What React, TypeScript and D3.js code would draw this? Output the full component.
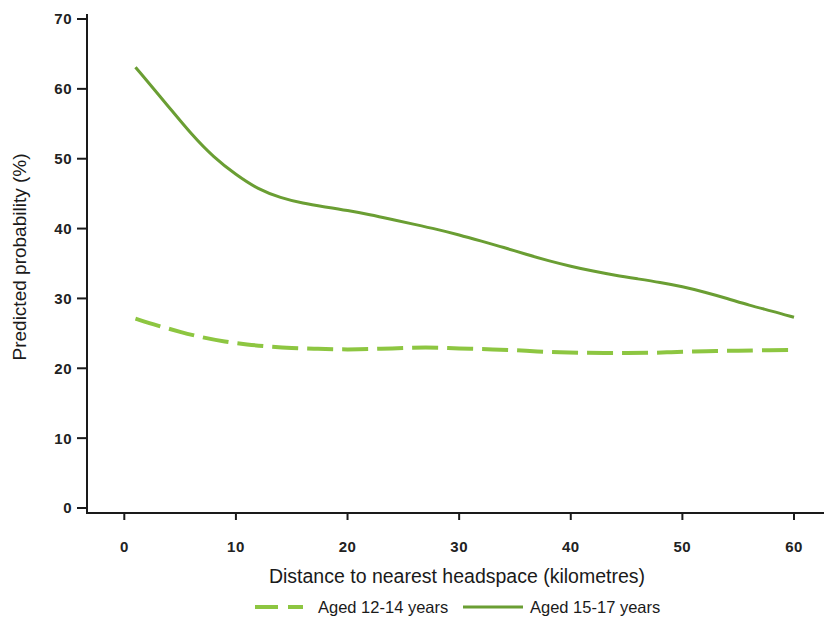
import React from "react";
import * as d3 from "d3";

const xTicks = [0, 10, 20, 30, 40, 50, 60];
const yTicks = [0, 10, 20, 30, 40, 50, 60, 70];

const olderDistance = [1, 4, 6, 8, 10, 12, 14, 16, 18, 20, 22, 24, 26, 28, 30, 32, 34, 36, 38, 40, 42, 44, 46, 48, 50, 52, 54, 56, 58, 60];
const olderProb = [63.1, 57.4, 53.5, 50.2, 47.7, 45.6, 44.4, 43.6, 43.1, 42.6, 42.0, 41.3, 40.6, 39.9, 39.1, 38.2, 37.3, 36.3, 35.4, 34.6, 33.9, 33.3, 32.8, 32.3, 31.7, 30.9, 30.0, 29.0, 28.2, 27.3];

const youngerDistance = [1, 3, 5, 7, 9, 11, 13, 15, 17, 19, 21, 23, 25, 27, 29, 31, 33, 35, 37, 39, 41, 43, 45, 47, 49, 51, 53, 55, 57, 60];
const youngerProb = [27.1, 26.1, 25.2, 24.4, 23.8, 23.4, 23.1, 22.9, 22.8, 22.7, 22.7, 22.8, 22.9, 23.0, 22.9, 22.8, 22.7, 22.6, 22.4, 22.3, 22.2, 22.2, 22.2, 22.2, 22.3, 22.4, 22.5, 22.5, 22.6, 22.6];

const seriesNames = ["Aged 12-14 years", "Aged 15-17 years"];

export default function App() {
  const W = 824, H = 623;
  const x = d3.scaleLinear().domain([0, 60]).range([124.3, 794]);
  const y = d3.scaleLinear().domain([0, 70]).range([508, 19]);
  const axisX = 87, axisY = 513;
  const line = d3.line<[number, number]>()
    .x(d => x(d[0]))
    .y(d => y(d[1]))
    .curve(d3.curveBasis);
  const older = olderDistance.map((d, i) => [d, olderProb[i]] as [number, number]);
  const younger = youngerDistance.map((d, i) => [d, youngerProb[i]] as [number, number]);
  const dark = "#6a9e33";
  const light = "#8dc641";
  const font = "Arial, 'Liberation Sans', Helvetica, sans-serif";
  return (
    <svg width={W} height={H} style={{ position: "absolute", left: 0, top: 0, background: "#fff" }} fontFamily={font}>
      <rect width={W} height={H} fill="#fff" />
      {/* y axis */}
      <line x1={axisX} x2={axisX} y1={14} y2={axisY + 1} stroke="#1a1a1a" strokeWidth={2} />
      {yTicks.map(t => (
        <g key={t}>
          <line x1={77} x2={axisX} y1={y(t)} y2={y(t)} stroke="#1a1a1a" strokeWidth={2} />
          <text x={72} y={y(t)} dy="0.36em" textAnchor="end" fontSize={15} fontWeight="bold" letterSpacing={0.5} fill="#222">{t}</text>
        </g>
      ))}
      {/* x axis */}
      <line x1={axisX - 1} x2={824} y1={axisY} y2={axisY} stroke="#1a1a1a" strokeWidth={2} />
      {xTicks.map(t => (
        <g key={t}>
          <line x1={x(t)} x2={x(t)} y1={axisY} y2={axisY + 7} stroke="#1a1a1a" strokeWidth={2} />
          <text x={x(t)} y={552} textAnchor="middle" fontSize={15} fontWeight="bold" letterSpacing={0.5} fill="#222">{t}</text>
        </g>
      ))}
      <text x={457} y={583} textAnchor="middle" fontSize={19.5} fill="#1a1a1a">Distance to nearest headspace (kilometres)</text>
      <text transform="translate(26,257) rotate(-90)" textAnchor="middle" fontSize={19} fill="#1a1a1a">Predicted probability (%)</text>
      {/* lines */}
      <path d={line(younger) || ""} fill="none" stroke={light} strokeWidth={4} strokeDasharray="26 9" />
      <path d={line(older) || ""} fill="none" stroke={dark} strokeWidth={3} />
      {/* legend */}
      <line x1={255} x2={303} y1={607} y2={607} stroke={light} strokeWidth={4} strokeDasharray="23 10" />
      <text x={318} y={613} fontSize={16.5} fill="#1a1a1a">{seriesNames[0]}</text>
      <line x1={463} x2={523} y1={607} y2={607} stroke={dark} strokeWidth={3} />
      <text x={530} y={613} fontSize={16.5} fill="#1a1a1a">{seriesNames[1]}</text>
    </svg>
  );
}
